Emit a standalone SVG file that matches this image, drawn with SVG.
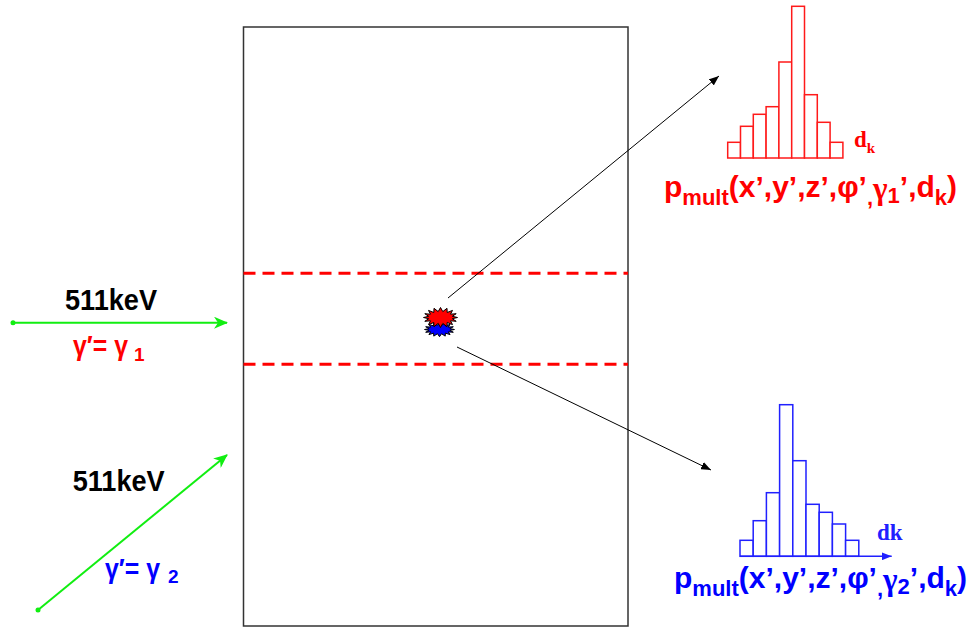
<svg xmlns="http://www.w3.org/2000/svg" xmlns:xlink="http://www.w3.org/1999/xlink" width="976" height="628" viewBox="0 0 976 628">
<style>
.sans{font-family:"Liberation Sans",Arial,sans-serif;font-weight:bold}
.serif{font-family:"Liberation Serif","Times New Roman",serif;font-weight:bold}
.histR rect{fill:#ffffff;stroke:#ff1a1a;stroke-width:1.5}
.histB rect{fill:#ffffff;stroke:#2020ff;stroke-width:1.5}
.dash{stroke:#ff0000;stroke-width:3;stroke-dasharray:12 7;fill:none}
.ray{stroke:#000000;stroke-width:1;fill:none}
.gamma{stroke:#11ee11;stroke-width:2;fill:none}
</style>
<defs>
<marker id="ah" viewBox="0 0 10 8" refX="10" refY="4" markerWidth="10" markerHeight="8" markerUnits="userSpaceOnUse" orient="auto">
<path d="M0,0 L10,4 L0,8 Z" fill="#000"/>
</marker>
<marker id="gh" viewBox="0 0 14 12" refX="13" refY="6" markerWidth="14" markerHeight="12" markerUnits="userSpaceOnUse" orient="auto">
<path d="M0,0 L14,6 L0,12 L4,6 Z" fill="#11ee11"/>
</marker>
<marker id="bh" viewBox="0 0 10 8" refX="10" refY="4" markerWidth="10" markerHeight="8" markerUnits="userSpaceOnUse" orient="auto">
<path d="M0,0 L10,4 L0,8 Z" fill="#2020ff"/>
</marker>
<polygon id="star" stroke="#000" stroke-width="1" vector-effect="non-scaling-stroke" points="17,0 11.8,1.2 15.7,3.8 10,3.3 12,7.1 6.7,5 6.5,9.2 2.3,5.9 0,10 -2.3,5.9 -6.5,9.2 -6.7,5 -12,7.1 -10,3.3 -15.7,3.8 -11.8,1.2 -17,0 -11.8,-1.2 -15.7,-3.8 -10,-3.3 -12,-7.1 -6.7,-5 -6.5,-9.2 -2.3,-5.9 0,-10 2.3,-5.9 6.5,-9.2 6.7,-5 12,-7.1 10,-3.3 15.7,-3.8 11.8,-1.2"/>
</defs>
<rect width="976" height="628" fill="#ffffff"/>

<g id="chamber">
<rect x="243.5" y="27" width="384.5" height="599" fill="none" stroke="#333" stroke-width="1.5"/>
<line class="dash" x1="243.5" y1="273.3" x2="628" y2="273.3"/>
<line class="dash" x1="243.5" y1="364.3" x2="628" y2="364.3"/>
</g>

<g id="interaction">
<use xlink:href="#star" fill="#0000ff" transform="translate(439.5,329.5) scale(0.88,0.72)"/>
<use xlink:href="#star" fill="#ff0000" transform="translate(440.5,317.5)"/>
</g>

<g id="connectors">
<line class="ray" x1="448" y1="298" x2="719" y2="76" marker-end="url(#ah)"/>
<line class="ray" x1="457" y1="347" x2="711" y2="470" marker-end="url(#ah)"/>
<line class="gamma" x1="13" y1="322.7" x2="227" y2="322.7" marker-end="url(#gh)"/>
<circle cx="13" cy="322.7" r="2.5" fill="#11ee11"/>
<line class="gamma" x1="38" y1="610" x2="227" y2="455" marker-end="url(#gh)"/>
<circle cx="38" cy="610" r="2.5" fill="#11ee11"/>
</g>

<g id="beam1-label">
<text class="sans" x="65" y="310" font-size="30" fill="#000" textLength="92" lengthAdjust="spacingAndGlyphs">511keV</text>
<text class="sans" x="73" y="355" font-size="27" fill="#ff0000" textLength="55" lengthAdjust="spacingAndGlyphs">γ′= γ</text>
<text class="sans" x="134" y="361" font-size="19" fill="#ff0000">1</text>
</g>

<g id="beam2-label">
<text class="sans" x="72.7" y="490.7" font-size="30" fill="#000" textLength="92" lengthAdjust="spacingAndGlyphs">511keV</text>
<text class="sans" x="105" y="578" font-size="27" fill="#0000ff" textLength="55" lengthAdjust="spacingAndGlyphs">γ′= γ</text>
<text class="sans" x="168" y="583" font-size="19" fill="#0000ff">2</text>
</g>

<g id="histogram-red" class="histR">
<rect x="727.7" y="142.3" width="12.8" height="15.7"/>
<rect x="740.5" y="126.3" width="12.8" height="31.7"/>
<rect x="753.3" y="114.3" width="12.8" height="43.7"/>
<rect x="766.1" y="106.7" width="12.8" height="51.3"/>
<rect x="778.9" y="62" width="12.8" height="96"/>
<rect x="791.7" y="6.3" width="12.8" height="151.7"/>
<rect x="804.5" y="94.7" width="12.8" height="63.3"/>
<rect x="817.3" y="122.3" width="12.8" height="35.7"/>
<rect x="830.1" y="142.3" width="12.8" height="15.7"/>
<text class="serif" x="854" y="147" font-size="23" fill="#ff0000" stroke="none">d<tspan font-size="15" dy="6">k</tspan></text>
<text class="sans" x="664" y="197" font-size="30" fill="#ff0000" stroke="none">p<tspan font-size="22" dy="8">mult</tspan><tspan dy="-8">(x’,y’,z’,φ’</tspan><tspan font-size="22" dy="8">,</tspan><tspan class="serif" font-size="31" dy="-6">γ</tspan><tspan font-size="22" dy="4">1</tspan><tspan dy="-6">’,d</tspan><tspan font-size="22" dy="8">k</tspan><tspan dy="-8">)</tspan></text>
</g>

<g id="histogram-blue" class="histB">
<rect x="740" y="540.3" width="13.2" height="16"/>
<rect x="753.2" y="520.7" width="13.2" height="35.6"/>
<rect x="766.4" y="492.7" width="13.2" height="63.6"/>
<rect x="779.6" y="404.7" width="13.2" height="151.6"/>
<rect x="792.8" y="460.7" width="13.2" height="95.6"/>
<rect x="806" y="504.3" width="13.2" height="52"/>
<rect x="819.2" y="512.3" width="13.2" height="44"/>
<rect x="832.4" y="524" width="13.2" height="32.3"/>
<rect x="845.6" y="540.3" width="13.2" height="16"/>
<line x1="740" y1="556.3" x2="891.7" y2="556.3" stroke="#2020ff" stroke-width="1.5" marker-end="url(#bh)"/>
<text class="serif" x="877" y="540" font-size="23" fill="#2020ff" stroke="none">dk</text>
<text class="sans" x="674" y="588" font-size="30" fill="#0000ff" stroke="none">p<tspan font-size="22" dy="8">mult</tspan><tspan dy="-8">(x’,y’,z’,φ’</tspan><tspan font-size="22" dy="8">,</tspan><tspan class="serif" font-size="31" dy="-6">γ</tspan><tspan font-size="22" dy="4">2</tspan><tspan dy="-6">’,d</tspan><tspan font-size="22" dy="8">k</tspan><tspan dy="-8">)</tspan></text>
</g>
</svg>
